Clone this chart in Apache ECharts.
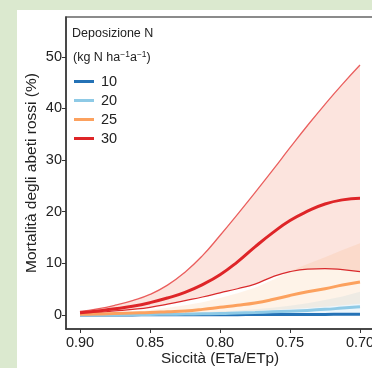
<!DOCTYPE html>
<html><head><meta charset="utf-8">
<script src="https://cdn.jsdelivr.net/npm/echarts@6/dist/echarts.min.js"></script>
<style>html,body{margin:0;padding:0;background:#dbe9cf;}#c{width:372px;height:368px;}</style>
</head><body><div id="c"></div>
<script>
// Drought index (ETa/ETp), axis reversed
const xs = [0.90, 0.8875, 0.875, 0.8625, 0.85, 0.8375, 0.825, 0.8125, 0.80, 0.7875, 0.775, 0.7625, 0.75, 0.7375, 0.725, 0.7125, 0.70];
const xTicks = [0.90, 0.85, 0.80, 0.75, 0.70];
const yTicks = [0, 10, 20, 30, 40, 50];
const groups = ['10', '20', '25', '30'];
// central estimates (%)
const mid10 = [0.02, 0.02, 0.03, 0.03, 0.04, 0.04, 0.05, 0.06, 0.07, 0.08, 0.09, 0.1, 0.11, 0.12, 0.13, 0.14, 0.15];
const mid20 = [0.05, 0.06, 0.08, 0.1, 0.12, 0.16, 0.2, 0.25, 0.3, 0.4, 0.5, 0.62, 0.75, 0.9, 1.1, 1.35, 1.6];
const mid25 = [0.15, 0.2, 0.3, 0.4, 0.5, 0.65, 0.8, 1.1, 1.5, 1.9, 2.35, 3.0, 3.8, 4.5, 5.1, 5.8, 6.4];
const mid30 = [0.45, 0.8, 1.2, 1.7, 2.4, 3.3, 4.4, 5.9, 7.8, 10.3, 13.2, 15.9, 18.3, 20.1, 21.5, 22.3, 22.6];
// confidence bands
const lo10 = [0, 0, 0, 0.01, 0.01, 0.01, 0.01, 0.02, 0.02, 0.02, 0.03, 0.03, 0.04, 0.04, 0.05, 0.05, 0.06];
const hi10 = [0.05, 0.05, 0.06, 0.07, 0.08, 0.09, 0.1, 0.11, 0.13, 0.15, 0.17, 0.19, 0.22, 0.25, 0.28, 0.31, 0.35];
const lo20 = [0, 0.01, 0.02, 0.03, 0.04, 0.05, 0.06, 0.07, 0.09, 0.11, 0.14, 0.17, 0.2, 0.25, 0.3, 0.37, 0.45];
const hi20 = [0.1, 0.12, 0.15, 0.2, 0.25, 0.32, 0.4, 0.55, 0.7, 0.9, 1.1, 1.4, 1.8, 2.3, 2.9, 3.6, 4.5];
const lo25 = [0.05, 0.08, 0.12, 0.17, 0.22, 0.28, 0.35, 0.45, 0.55, 0.67, 0.8, 0.97, 1.15, 1.35, 1.6, 1.9, 2.2];
const hi25 = [0.25, 0.35, 0.5, 0.7, 1.0, 1.4, 1.9, 2.5, 3.3, 4.2, 5.3, 6.8, 8.5, 9.9, 11.2, 12.6, 13.9];
const lo30 = [0.3, 0.5, 0.8, 1.1, 1.5, 2.1, 2.8, 3.5, 4.3, 5.1, 6.0, 7.4, 8.4, 8.9, 9.0, 8.8, 8.4];
const hi30 = [0.7, 1.2, 1.9, 2.8, 4.0, 5.8, 8.3, 11.5, 15.4, 19.5, 23.7, 28.0, 32.4, 36.7, 40.8, 44.7, 48.4];

const colors = {'10': '#2472b6', '20': '#8ecae6', '25': '#fca15e', '30': '#de2528'};
const fills = {
  '10': 'rgba(36,114,182,0.15)',
  '20': 'rgba(140,200,230,0.16)',
  '25': 'rgba(250,160,80,0.13)',
  '30': 'rgba(240,120,90,0.2)'
};
const pts = arr => xs.map((x, i) => [x, arr[i]]);
const bands = {'10': [lo10, hi10], '20': [lo20, hi20], '25': [lo25, hi25], '30': [lo30, hi30]};
const mids = {'10': mid10, '20': mid20, '25': mid25, '30': mid30};

const series = [];
groups.forEach(g => {
  const [lo, hi] = bands[g];
  series.push({
    name: 'band' + g, type: 'custom', silent: true, z: 1,
    data: xs.map((x, i) => [x, lo[i], hi[i]]),
    renderItem: (params, api) => {
      if (params.dataIndex !== 0) return null;
      const upper = xs.map((x, i) => api.coord([x, hi[i]]));
      const lower = xs.map((x, i) => api.coord([x, lo[i]])).reverse();
      return {
        type: 'polygon',
        shape: {points: upper.concat(lower)},
        style: {fill: fills[g], stroke: null}
      };
    },
    encode: {x: 0, y: [1, 2]}
  });
});
// thin border lines of the 30 band
series.push({name: 'hi30', type: 'line', data: pts(hi30), smooth: true, symbol: 'none',
  lineStyle: {color: '#ea5f5e', width: 1.3}, z: 2});
series.push({name: 'lo30', type: 'line', data: pts(lo30), smooth: true, symbol: 'none',
  lineStyle: {color: '#d92a2c', width: 1.2}, z: 2});
groups.forEach(g => {
  series.push({name: g, type: 'line', data: pts(mids[g]), smooth: true, symbol: 'none',
    color: colors[g], lineStyle: {color: colors[g], width: 3}, z: 3});
});

const font = "'Liberation Sans', Arial, sans-serif";
const chart = echarts.init(document.getElementById('c'), null, {renderer: 'canvas'});
chart.setOption({
  animation: false,
  backgroundColor: '#dbe9cf',
  graphic: [
    {type: 'rect', left: 17, top: 10, shape: {width: 360, height: 360}, style: {fill: '#ffffff'}, z: -10},
    {type: 'text', left: 72, top: 27, style: {text: 'Deposizione N', font: '12.5px ' + font, fill: '#222'}, z: 10},
    {type: 'text', left: 73, top: 50, z: 10, style: {
      text: '(kg N ha{s|\u22121}a{s|\u22121})', font: '12.5px ' + font, fill: '#222',
      rich: {s: {fontSize: 8.5, fontFamily: font, fill: '#222', padding: [0, 0, 7, 0]}}
    }}
  ],
  grid: {left: 66, top: 17, right: -2, bottom: 39, outerBoundsMode: 'none', containLabel: false,
    show: true, borderColor: '#666', borderWidth: 1.5, backgroundColor: 'transparent'},
  legend: {
    data: groups, orient: 'vertical', left: 74, top: 74, padding: 0, itemWidth: 20, itemHeight: 3, itemGap: 4,
    icon: 'rect', textStyle: {fontSize: 14.5, fontFamily: font, color: '#222', padding: [0, 0, 0, 2]}
  },
  xAxis: {
    type: 'value', inverse: true, min: 0.69, max: 0.91,
    name: 'Siccità (ETa/ETp)', nameLocation: 'middle', nameGap: 22, nameMoveOverlap: false,
    nameTextStyle: {fontSize: 15.3, fontFamily: font, color: '#222'},
    axisLine: {show: true, onZero: false, lineStyle: {color: '#333', width: 1.5}},
    axisTick: {show: true, length: 4, customValues: xTicks, lineStyle: {color: '#333'}},
    axisLabel: {customValues: xTicks, fontSize: 14.5, fontFamily: font, color: '#222', margin: 6,
      formatter: v => v.toFixed(2)},
    splitLine: {show: false}
  },
  yAxis: {
    type: 'value', min: -2.7, max: 57.7,
    name: 'Mortalità degli abeti rossi (%)', nameLocation: 'middle', nameGap: 26, nameMoveOverlap: false,
    nameTextStyle: {fontSize: 15.5, fontFamily: font, color: '#222'},
    axisLine: {show: true, onZero: false, lineStyle: {color: '#333', width: 1.5}},
    axisTick: {show: true, length: 4, customValues: yTicks, lineStyle: {color: '#333'}},
    axisLabel: {customValues: yTicks, fontSize: 14.5, fontFamily: font, color: '#222', margin: 4},
    splitLine: {show: false}
  },
  series: series
});
</script></body></html>
